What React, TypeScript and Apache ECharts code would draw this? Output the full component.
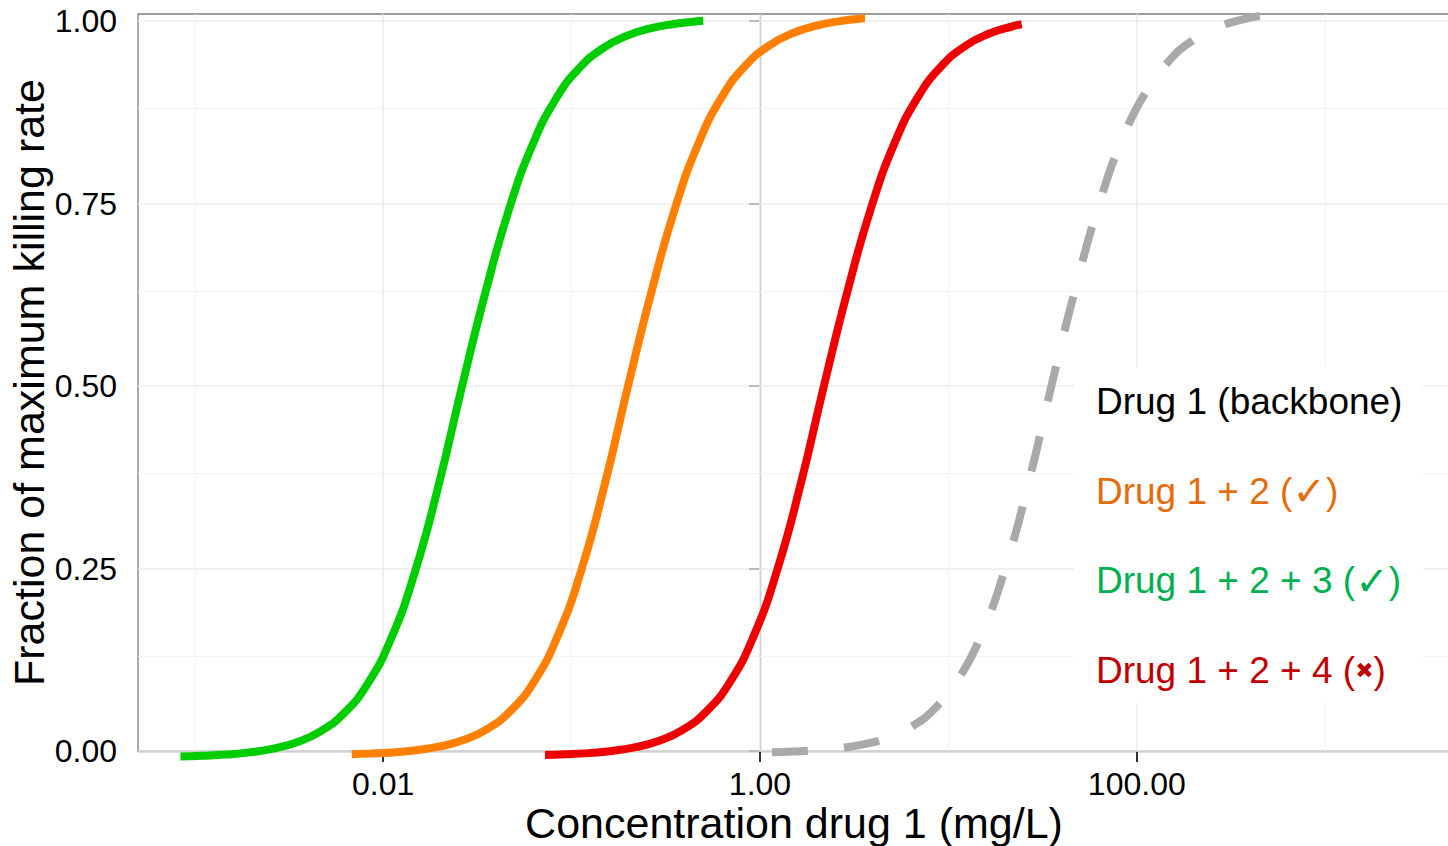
import React, { useEffect, useRef } from "react";
import * as echarts from "echarts";

// ---- axis ticks / grid values ----
const xTickValues = [0.01, 1, 100]; // mg/L (log scale)
const xMinorValues = [0.001, 0.1, 10, 1000];
const yTickValues = [0, 0.25, 0.5, 0.75, 1];
const yMinorValues = [0.125, 0.375, 0.625, 0.875];

// ---- curves: concentration (mg/L) and fraction of maximum killing rate ----
const greenConc = [0.000839, 0.001102, 0.001469, 0.001959, 0.002612, 0.003483, 0.004645, 0.006194, 0.00826, 0.01102, 0.01469, 0.01959, 0.02612, 0.03483, 0.04645, 0.06194, 0.0826, 0.1102, 0.1469, 0.1959, 0.2612, 0.3483, 0.4645, 0.4995];
const greenFrac = [-0.0076, -0.0066, -0.0049, -0.0019, 0.0033, 0.0121, 0.027, 0.0518, 0.092, 0.1542, 0.2441, 0.3619, 0.498, 0.6276, 0.7413, 0.8301, 0.8935, 0.9358, 0.9628, 0.9796, 0.9898, 0.9959, 0.9996, 1.0003];

const orangeConc = [0.006808, 0.008433, 0.01125, 0.015, 0.02, 0.02667, 0.03556, 0.04742, 0.06324, 0.08433, 0.1125, 0.15, 0.2, 0.2667, 0.3556, 0.4742, 0.6324, 0.8433, 1.125, 1.5, 2.0, 2.667, 3.556, 3.608];
const orangeFrac = [-0.0044, -0.0036, -0.0019, 0.0011, 0.0063, 0.0151, 0.03, 0.0549, 0.0951, 0.1574, 0.2474, 0.3653, 0.5015, 0.6312, 0.745, 0.834, 0.8974, 0.9397, 0.9668, 0.9835, 0.9937, 0.9999, 1.0036, 1.0037];

const redConc = [0.07225, 0.09219, 0.1229, 0.1639, 0.2186, 0.2915, 0.3887, 0.5183, 0.6912, 0.9219, 1.229, 1.639, 2.186, 2.915, 3.887, 5.183, 6.912, 9.219, 12.29, 16.39, 21.86, 24.49];
const redFrac = [-0.0055, -0.0046, -0.0029, 0.0001, 0.0053, 0.0141, 0.029, 0.0539, 0.0941, 0.1564, 0.2464, 0.3643, 0.5005, 0.6302, 0.744, 0.833, 0.8964, 0.9387, 0.9658, 0.9825, 0.9927, 0.9956];

const grayConc = [1.158, 1.507, 2.009, 2.679, 3.573, 4.764, 6.353, 8.472, 11.3, 15.07, 20.09, 26.79, 35.73, 47.64, 63.53, 84.72, 113.0, 150.7, 200.9, 267.9, 357.3, 476.4, 619.4];
const grayFrac = [-0.0016, -0.0006, 0.0011, 0.0042, 0.0093, 0.0182, 0.0332, 0.0582, 0.0986, 0.1612, 0.2516, 0.3701, 0.507, 0.6373, 0.7517, 0.8411, 0.9049, 0.9474, 0.9746, 0.9914, 1.0017, 1.0079, 1.0113];

// ---- legend (annotation) ----
const legendLabels = ["Drug 1 (backbone)", "Drug 1 + 2", "Drug 1 + 2 + 3", "Drug 1 + 2 + 4"];
const legendMarks = ["", "✓", "✓", "✖"];
const legendColors = ["#000000", "#E46C0A", "#00B050", "#C00000"];

const FONT = "'Liberation Sans', Arial, sans-serif";
const X_MIN = -3.3015;
const X_MAX = 3.6624;
const Y_MIN = 0;
const Y_MAX = 1.0096;

function toPoints(conc: number[], frac: number[]) {
  return conc.map((c, i) => [Math.log10(c), frac[i]]);
}

export default function App() {
  const ref = useRef<HTMLDivElement>(null);

  useEffect(() => {
    document.body.style.margin = "0";
    if (!ref.current) return;
    const chart = echarts.init(ref.current, null, { renderer: "svg" });

    const majorLine = { color: "#EBEBEB", width: 1.5, type: "solid" };
    const minorLine = { color: "#F3F3F3", width: 1, type: "solid" };

    const gridLines = [
      ...yTickValues.map((v) => ({ yAxis: v, lineStyle: majorLine })),
      ...yMinorValues.map((v) => ({ yAxis: v, lineStyle: minorLine })),
      ...xTickValues.map((v) => ({ xAxis: Math.log10(v), lineStyle: majorLine })),
      ...xMinorValues.map((v) => ({ xAxis: Math.log10(v), lineStyle: minorLine })),
    ];

    const curve = (name: string, data: number[][], color: string, dashed = false) => ({
      name,
      type: "line",
      data,
      showSymbol: false,
      symbol: "none",
      smooth: 0.5,
      clip: false,
      z: 3,
      silent: true,
      lineStyle: {
        color,
        width: 8,
        cap: "butt",
        type: dashed ? [36, 36] : "solid",
      },
    });

    const legendTexts = legendLabels.map((label, i) => {
      const text = legendMarks[i]
        ? `{t|${label} (}{m|${legendMarks[i]}}{t|)}`
        : `{t|${label}}`;
      return {
        type: "text",
        x: 1096,
        y: 401.5 + i * 89.5,
        z: 51,
        style: {
          text,
          fill: legendColors[i],
          verticalAlign: "middle",
          align: "left",
          rich: {
            t: { fontFamily: FONT, fontSize: 37, fill: legendColors[i] },
            m: {
              fontFamily: "'DejaVu Sans', sans-serif",
              fontSize: legendMarks[i] === "✖" ? 22 : 40,
              fontWeight: "bold",
              fill: legendColors[i],
            },
          },
        },
      };
    });

    chart.setOption({
      animation: false,
      backgroundColor: "#ffffff",
      textStyle: { fontFamily: FONT },
      grid: {
        left: 138,
        right: -2,
        top: 14,
        bottom: 95,
        show: true,
        borderColor: "#7F7F7F",
        borderWidth: 1.3,
        containLabel: false,
        outerBoundsMode: "none",
      },
      xAxis: {
        type: "value",
        min: X_MIN,
        max: X_MAX,
        name: "Concentration drug 1 (mg/L)",
        nameLocation: "middle",
        nameGap: 50,
        nameMoveOverlap: false,
        nameTextStyle: { fontSize: 43, color: "#000", fontFamily: FONT },
        axisLine: { show: true, onZero: false, lineStyle: { color: "#7F7F7F", width: 1.3 } },
        axisTick: {
          show: true,
          length: 11,
          lineStyle: { color: "#333", width: 2 },
          customValues: xTickValues.map((v) => Math.log10(v)),
        },
        axisLabel: {
          show: true,
          fontSize: 32,
          color: "#000",
          margin: 17,
          fontFamily: FONT,
          customValues: xTickValues.map((v) => Math.log10(v)),
          formatter: (v: number) => Math.pow(10, v).toFixed(2),
        },
        splitLine: { show: false },
      },
      yAxis: {
        type: "value",
        min: Y_MIN,
        max: Y_MAX,
        name: "Fraction of maximum killing rate",
        nameLocation: "middle",
        nameGap: 88,
        nameMoveOverlap: false,
        nameTextStyle: { fontSize: 43, color: "#000", fontFamily: FONT },
        axisLine: { show: true, lineStyle: { color: "#7F7F7F", width: 1.3 } },
        axisTick: {
          show: true,
          length: 11,
          lineStyle: { color: "#333", width: 2 },
          customValues: yTickValues,
        },
        axisLabel: {
          show: true,
          fontSize: 32,
          color: "#000",
          margin: 21,
          fontFamily: FONT,
          customValues: yTickValues,
          formatter: (v: number) => v.toFixed(2),
        },
        splitLine: { show: false },
      },
      series: [
        {
          name: "grid",
          type: "line",
          data: [[X_MIN, 0]],
          showSymbol: false,
          symbol: "none",
          silent: true,
          lineStyle: { opacity: 0 },
          z: 1,
          markLine: {
            silent: true,
            symbol: "none",
            z: 1,
            label: { show: false },
            emphasis: { disabled: true },
            data: gridLines,
          },
        },
        curve("Drug 1 (backbone)", toPoints(grayConc, grayFrac), "#A9A9A9", true),
        curve("Drug 1 + 2", toPoints(orangeConc, orangeFrac), "#FF7F00"),
        curve("Drug 1 + 2 + 3", toPoints(greenConc, greenFrac), "#00CD00"),
        curve("Drug 1 + 2 + 4", toPoints(redConc, redFrac), "#EE0000"),
      ],
      graphic: [
        {
          type: "rect",
          shape: { x: 1074, y: 367, width: 349, height: 336 },
          style: { fill: "#ffffff" },
          z: 50,
          silent: true,
        },
        ...legendTexts,
      ],
    });

    return () => chart.dispose();
  }, []);

  return <div ref={ref} style={{ width: 1448, height: 846 }} />;
}
